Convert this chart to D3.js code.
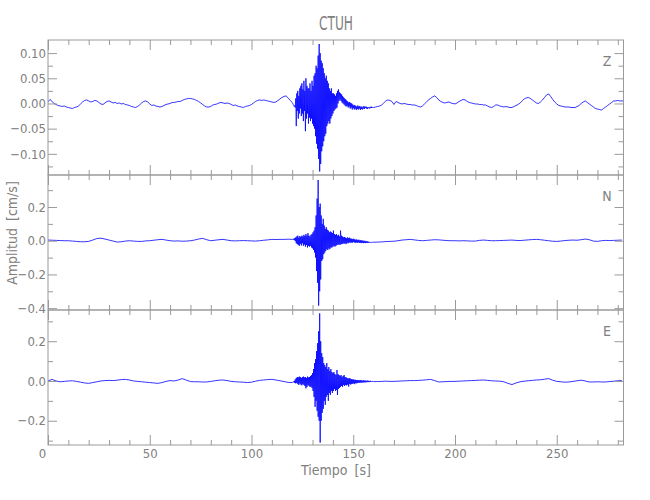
<!DOCTYPE html>
<html><head><meta charset="utf-8">
<script src="https://cdn.jsdelivr.net/npm/d3@7"></script>
<style>
body{margin:0;background:#fff;}
svg text{font-family:"Liberation Sans Narrow","DejaVu Sans Condensed","Liberation Sans",sans-serif;fill:#808080;}
</style></head><body><svg id="c" width="650" height="500"></svg>
<script>
// ---------------- data ----------------
const title = "CTUH";
const xLabel = "Tiempo [s]";
const yLabel = "Amplitud [cm/s]";
const components = ["Z", "N", "E"];
const xMajorTicks = [0, 50, 100, 150, 200, 250];
const xMinorTicks = [10, 20, 30, 40, 60, 70, 80, 90, 110, 120, 130, 140, 160, 170, 180, 190, 210, 220, 230, 240, 260, 270, 280];
const xDomain = [0, 282.8];

const zDomain = [-0.142, 0.126];
const nDomain = [-0.411, 0.39];
const eDomain = [-0.322, 0.357];
const zMajorTicks = [-0.10, -0.05, 0.00, 0.05, 0.10];
const nMajorTicks = [-0.4, -0.2, 0.0, 0.2];
const eMajorTicks = [-0.2, 0.0, 0.2];
const zMinorTicks = [-0.125, -0.075, -0.025, 0.025, 0.075];
const nMinorTicks = [-0.3, -0.1, 0.1, 0.3];
const eMinorTicks = [-0.3, -0.1, 0.1, 0.3];

// segment time bases: [start, step] for quiet-before, burst, quiet-after
const zSegTimes = [[0, 1], [120, 0.25], [161, 1]];
const nSegTimes = [[0, 2], [120, 0.25], [162, 2]];
const eSegTimes = [[0, 2], [120, 0.25], [162, 2]];

const zQuietA = [0.003,0.008,0.004,0.000,-0.002,-0.004,-0.005,-0.006,-0.005,-0.007,
-0.008,-0.009,-0.010,-0.008,-0.007,-0.005,-0.001,0.003,0.006,0.007,
0.005,0.003,0.004,0.006,0.005,0.002,-0.001,-0.002,0.001,0.004,
0.005,0.003,0.001,0.002,0.000,0.001,-0.001,0.000,-0.002,-0.003,
-0.004,-0.006,-0.007,-0.008,-0.006,-0.003,0.001,0.004,0.005,0.003,
-0.001,-0.004,-0.003,-0.005,-0.006,-0.007,-0.006,-0.004,-0.002,-0.001,
0.000,0.002,0.002,0.003,0.004,0.004,0.006,0.008,0.009,0.010,
0.010,0.009,0.008,0.006,0.004,0.001,-0.002,-0.005,-0.007,-0.007,
-0.006,-0.003,-0.002,-0.001,0.001,0.002,0.001,0.000,0.001,0.000,
-0.002,-0.004,-0.003,-0.005,-0.006,-0.007,-0.008,-0.006,-0.005,-0.004,
-0.002,0.001,0.004,0.006,0.007,0.006,0.007,0.006,0.005,0.004,
0.003,0.002,0.003,0.006,0.009,0.012,0.014,0.015,0.011,0.006];
const zBurst = [0.002,0.000,-0.002,-0.004,-0.006,-0.004,-0.008,
0.010,-0.045,0.020,-0.015,0.025,-0.030,0.015,-0.020,0.030,-0.010,
0.035,-0.025,0.040,-0.020,0.028,-0.035,0.045,-0.015,0.025,-0.055,0.050,-0.030,0.035,-0.020,0.030,-0.040,
0.030,-0.028,0.040,-0.035,0.025,-0.030,0.045,-0.040,0.035,-0.045,0.055,-0.050,
0.060,-0.065,0.075,-0.080,0.070,-0.090,0.095,-0.110,
0.118,-0.135,0.100,-0.120,0.085,-0.095,
0.080,-0.085,0.070,-0.075,0.060,-0.065,0.050,-0.060,0.055,-0.045,
0.045,-0.040,0.040,-0.035,0.030,-0.040,0.025,-0.030,0.030,-0.025,0.020,-0.020,
0.020,-0.015,0.018,-0.012,0.015,-0.010,0.020,-0.008,0.025,0.000,0.028,0.005,
0.022,0.008,0.020,0.005,0.018,0.002,0.015,0.000,0.012,-0.002,0.010,-0.004,0.008,-0.006,0.006,-0.005,
0.004,-0.008,0.002,-0.006,0.003,-0.010,0.001,-0.008,0.000,-0.012,-0.002,-0.009,-0.004,-0.012,-0.003,-0.010,-0.005,-0.013,-0.006,-0.011,
-0.004,-0.012,-0.006,-0.010,-0.005,-0.013,-0.007,-0.011,-0.006,-0.012,-0.008,-0.010,-0.005,-0.011,-0.007,-0.009,
-0.006,-0.010,-0.007,-0.011,-0.008,-0.009,-0.007,-0.010,-0.008,-0.009,-0.006,-0.009,-0.007,-0.008,-0.008,-0.008];
const zQuietB = [-0.007,-0.006,-0.005,-0.003,0.001,0.005,0.007,0.006,0.004,-0.002,
0.004,0.002,0.000,-0.001,0.000,-0.001,-0.002,-0.002,-0.003,-0.003,
-0.004,-0.006,-0.007,-0.005,-0.001,0.003,0.007,0.010,0.013,0.015,
0.012,0.007,0.004,0.002,0.001,0.002,0.003,0.001,0.000,-0.001,
0.001,0.004,0.006,0.008,0.007,0.004,0.002,0.001,0.000,-0.001,
-0.001,-0.002,-0.002,-0.003,-0.003,-0.005,-0.007,-0.008,-0.006,-0.003,
-0.003,-0.005,-0.006,-0.007,-0.006,-0.007,-0.008,-0.008,-0.006,-0.004,
-0.002,0.001,0.005,0.009,0.011,0.012,0.010,0.007,0.004,0.001,
0.000,0.003,0.007,0.012,0.017,0.019,0.014,0.008,0.003,-0.001,
-0.004,-0.005,-0.006,-0.007,-0.007,-0.007,-0.008,-0.008,-0.008,-0.006,
-0.004,0.000,0.003,0.005,0.002,-0.001,-0.004,-0.007,-0.010,-0.011,
-0.012,-0.013,-0.010,-0.007,-0.004,-0.001,0.002,0.005,0.005,0.006,
0.005,0.005,0.005];

const nQuietA = [0.004,0.003,0.002,0.001,0.000,0.000,-0.002,-0.004,-0.006,-0.006,
-0.004,0.004,0.013,0.015,0.010,0.004,-0.002,-0.008,-0.006,-0.002,
0.000,-0.002,-0.004,-0.004,-0.001,0.000,0.003,0.006,0.008,0.004,
0.000,-0.002,-0.001,-0.003,-0.002,0.000,0.004,0.010,0.014,0.006,
0.000,0.003,0.006,0.008,0.004,0.000,-0.001,0.000,0.001,0.000,
-0.001,-0.002,0.000,0.003,0.005,0.008,0.007,0.008,0.008,0.009];
const nBurst = [0.008,0.010,0.006,0.012,0.004,0.015,-0.002,0.020,
-0.015,0.025,-0.020,0.030,-0.025,0.018,-0.030,0.028,-0.018,0.022,-0.028,0.030,-0.015,
0.025,-0.030,0.035,-0.022,0.028,-0.035,0.040,-0.025,0.030,-0.040,0.045,-0.030,
0.030,-0.035,0.025,-0.030,0.035,-0.040,0.040,-0.045,0.050,-0.055,0.060,-0.070,
0.080,-0.100,0.150,-0.180,0.250,-0.250,
0.360,-0.385,0.200,-0.300,0.220,-0.230,
0.150,-0.120,0.100,-0.110,0.130,-0.080,0.090,-0.070,
0.070,-0.060,0.080,-0.050,0.065,-0.055,0.060,-0.045,0.050,-0.050,0.055,-0.040,
0.050,-0.040,0.045,-0.035,0.060,-0.030,0.040,-0.035,0.035,-0.030,0.040,-0.025,
0.030,-0.025,0.035,-0.020,0.025,-0.025,0.060,-0.020,0.030,-0.020,0.025,-0.015,
0.020,-0.018,0.022,-0.015,0.018,-0.020,0.015,-0.012,0.020,-0.015,0.015,-0.010,0.018,-0.012,0.012,-0.010,
0.012,-0.012,0.010,-0.008,0.012,-0.010,0.008,-0.012,0.006,-0.010,0.008,-0.012,0.004,-0.010,0.006,-0.012,
0.002,-0.012,0.004,-0.014,0.000,-0.012,0.002,-0.014,-0.002,-0.012,0.000,-0.014,-0.004,-0.012,-0.002,-0.013,
-0.006,-0.012,-0.006,-0.010,-0.008,-0.011,-0.007,-0.010,-0.008,-0.010,-0.008,-0.009];
const nQuietB = [-0.008,-0.007,-0.005,-0.004,-0.003,0.000,0.004,0.006,0.008,0.005,
0.002,0.000,0.002,0.004,0.006,0.005,0.003,0.001,0.000,0.000,
-0.001,0.000,-0.001,-0.002,-0.002,0.002,0.004,0.002,0.000,0.000,
0.001,0.002,0.003,0.004,0.002,0.001,0.003,0.005,0.007,0.008,
0.006,0.003,0.000,-0.003,-0.004,-0.002,0.001,0.003,0.004,0.003,
0.006,0.010,0.006,-0.002,-0.004,0.000,0.002,0.001,0.002,0.003,
0.004];

const eQuietA = [0.000,0.008,0.000,-0.004,-0.002,0.000,0.001,-0.002,-0.006,-0.010,
-0.012,-0.008,-0.004,0.000,0.002,0.003,0.002,0.004,0.007,0.008,
0.005,0.000,-0.002,-0.004,-0.006,-0.008,-0.010,-0.012,-0.008,-0.002,
0.002,0.000,0.005,0.012,0.004,-0.003,-0.004,-0.004,-0.005,-0.005,
-0.002,0.001,0.004,0.005,0.002,-0.002,-0.004,-0.005,-0.006,-0.008,
-0.006,-0.001,0.003,0.005,0.007,0.008,0.005,0.001,-0.003,-0.007];
const eBurst = [-0.008,-0.006,-0.004,-0.006,0.000,-0.010,0.008,-0.012,
0.015,-0.010,0.020,-0.015,0.018,-0.020,0.022,-0.012,0.020,-0.018,0.015,-0.022,0.020,
-0.015,0.022,-0.020,0.018,-0.025,0.020,-0.037,0.015,-0.030,0.022,-0.020,0.018,
-0.025,0.020,-0.030,0.025,-0.028,0.030,-0.035,0.040,-0.050,0.060,-0.080,0.090,
-0.130,0.110,-0.100,0.150,-0.150,0.190,-0.180,0.250,
-0.200,0.340,-0.310,0.200,-0.200,0.140,
-0.160,0.120,-0.140,0.090,-0.100,0.080,-0.120,0.070,
-0.080,0.090,-0.070,0.060,-0.100,0.070,-0.060,0.050,-0.070,0.060,-0.050,0.045,
-0.060,0.040,-0.050,0.045,-0.040,0.035,-0.050,0.030,-0.045,0.055,-0.070,0.035,
-0.040,0.030,-0.035,0.025,-0.030,0.030,-0.025,0.020,-0.030,0.025,-0.020,0.030,
-0.025,0.020,-0.020,0.018,-0.022,0.015,-0.018,0.012,-0.028,0.015,-0.015,0.012,-0.018,0.010,-0.015,0.008,
-0.014,0.008,-0.012,0.006,-0.016,0.006,-0.010,0.004,-0.012,0.005,-0.010,0.004,-0.008,0.003,-0.010,0.004,
-0.008,0.003,-0.008,0.002,-0.007,0.003,-0.008,0.002,-0.006,0.002,-0.007,0.001,-0.006,0.002,-0.005,0.001,
-0.006,0.000,-0.005,0.001,-0.004,-0.001,-0.004,-0.002,-0.003,-0.003];
const eQuietB = [-0.003,-0.002,-0.001,-0.002,-0.002,-0.001,0.000,0.001,0.002,0.002,
0.003,0.004,0.006,0.008,0.002,-0.005,-0.004,-0.003,-0.002,-0.002,
-0.001,0.000,0.001,0.002,0.003,0.004,0.005,0.003,0.001,0.000,
-0.001,-0.004,-0.012,-0.018,-0.010,-0.004,-0.001,0.001,0.003,0.005,
0.006,0.009,0.012,0.004,-0.002,-0.004,-0.006,-0.005,-0.002,0.001,
0.004,0.000,-0.005,-0.005,-0.004,-0.005,-0.005,-0.003,-0.001,0.001,
0.002];

// ---------------- drawing ----------------
const svg = d3.select("#c");
const left = 48, right = 623.5;
const panelTops = [40, 175, 310], panelH = 135;
const axisColor = "#9a9a9a";
const x = d3.scaleLinear().domain(xDomain).range([left, right]);

function build(segs, times) {
  const out = [];
  segs.forEach((vals, k) => {
    const [t0, dt] = times[k];
    vals.forEach((v, i) => out.push({t: t0 + i * dt, v}));
  });
  return out;
}
const panels = [
  {name: components[0], data: build([zQuietA, zBurst, zQuietB], zSegTimes), domain: zDomain, major: zMajorTicks, minor: zMinorTicks, fmt: ".2f"},
  {name: components[1], data: build([nQuietA, nBurst, nQuietB], nSegTimes), domain: nDomain, major: nMajorTicks, minor: nMinorTicks, fmt: ".1f"},
  {name: components[2], data: build([eQuietA, eBurst, eQuietB], eSegTimes), domain: eDomain, major: eMajorTicks, minor: eMinorTicks, fmt: ".1f"}
];

function styleAxis(g) {
  g.select(".domain").remove();
  g.selectAll("line").attr("stroke", axisColor).attr("stroke-width", 1);
  g.selectAll("text").attr("fill", "#808080").style("font-size", "13px");
}

panels.forEach((p, k) => {
  const top = panelTops[k], bot = top + panelH;
  const y = d3.scaleLinear().domain(p.domain).range([bot, top]);
  const g = svg.append("g");

  g.append("clipPath").attr("id", "clip" + k)
    .append("rect").attr("x", left).attr("y", top).attr("width", right - left).attr("height", panelH);

  g.append("path").datum(p.data)
    .attr("clip-path", `url(#clip${k})`)
    .attr("fill", "none").attr("stroke", "#0000ff").attr("stroke-width", 0.8)
    .attr("d", d3.line().x(d => x(d.t)).y(d => y(d.v)));

  // y axes
  g.append("g").attr("transform", `translate(${left},0)`)
    .call(d3.axisLeft(y).tickValues(p.major).tickSize(-9).tickPadding(2).tickFormat(d3.format(p.fmt)))
    .call(styleAxis);
  g.append("g").attr("transform", `translate(${left},0)`)
    .call(d3.axisLeft(y).tickValues(p.minor).tickSize(-5).tickFormat(""))
    .call(styleAxis);
  g.append("g").attr("transform", `translate(${right},0)`)
    .call(d3.axisRight(y).tickValues(p.major).tickSize(-9).tickFormat(""))
    .call(styleAxis);
  g.append("g").attr("transform", `translate(${right},0)`)
    .call(d3.axisRight(y).tickValues(p.minor).tickSize(-5).tickFormat(""))
    .call(styleAxis);

  // x axes (top and bottom of each panel)
  g.append("g").attr("transform", `translate(0,${top})`)
    .call(d3.axisTop(x).tickValues(xMajorTicks).tickSize(-10).tickFormat(""))
    .call(styleAxis);
  g.append("g").attr("transform", `translate(0,${top})`)
    .call(d3.axisTop(x).tickValues(xMinorTicks).tickSize(-5).tickFormat(""))
    .call(styleAxis);
  const last = k === panels.length - 1;
  const xb = g.append("g").attr("transform", `translate(0,${bot})`)
    .call(d3.axisBottom(x).tickValues(xMajorTicks).tickSize(-10).tickPadding(4)
      .tickFormat(last ? d3.format("d") : ""))
    .call(styleAxis);
  xb.selectAll(".tick text").filter(d => d === 0).attr("dx", -6);
  g.append("g").attr("transform", `translate(0,${bot})`)
    .call(d3.axisBottom(x).tickValues(xMinorTicks).tickSize(-5).tickFormat(""))
    .call(styleAxis);

  // frame
  g.append("rect").attr("x", left).attr("y", top).attr("width", right - left).attr("height", panelH)
    .attr("fill", "none").attr("stroke", axisColor).attr("stroke-width", 1);

  // component label
  g.append("text").attr("x", 607).attr("y", top + 26).attr("text-anchor", "middle")
    .style("font-size", "14px").attr("fill", "#6e6e6e").text(p.name);
});

// titles
svg.append("text").attr("x", 336).attr("y", 30).attr("text-anchor", "middle")
  .style("font-size", "19px").attr("textLength", 34).attr("lengthAdjust", "spacingAndGlyphs").text(title);
svg.append("text").attr("x", 336).attr("y", 475).attr("text-anchor", "middle")
  .style("font-size", "14px").style("word-spacing", "3px").text(xLabel);
svg.append("text").attr("transform", "translate(17,233) rotate(-90)").attr("text-anchor", "middle")
  .style("font-size", "14px").style("word-spacing", "3px").text(yLabel);
</script></body></html>
